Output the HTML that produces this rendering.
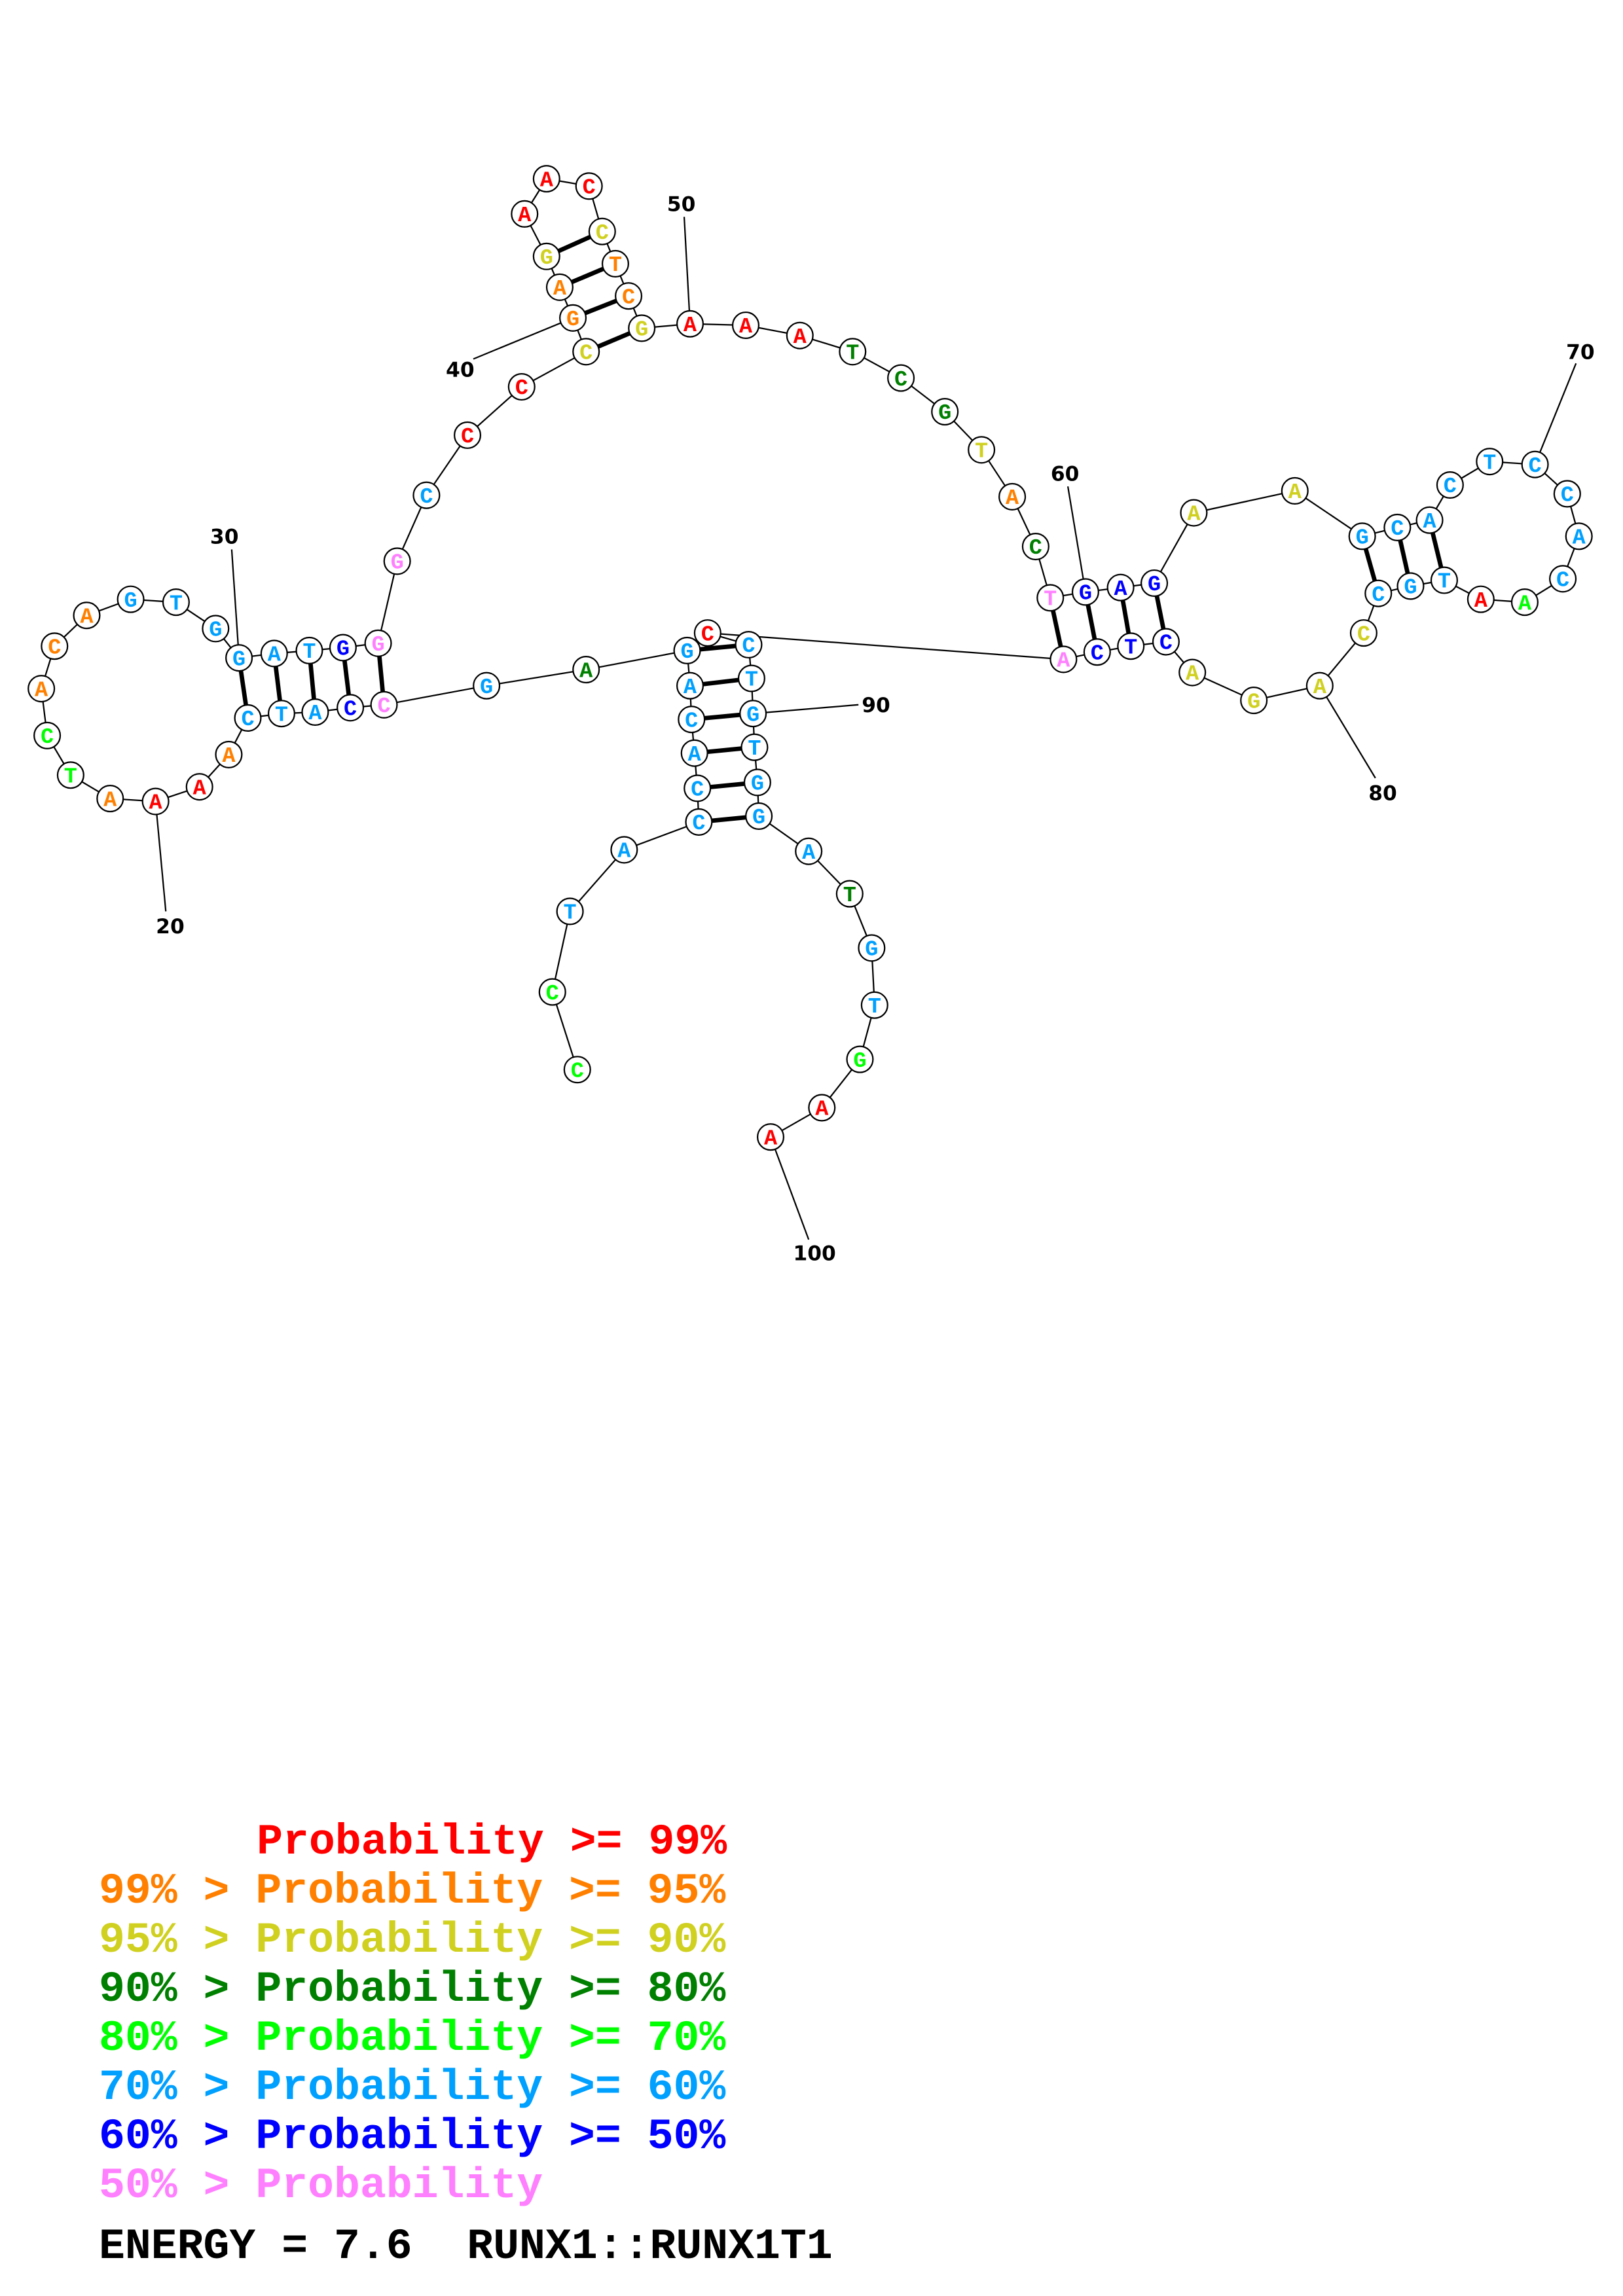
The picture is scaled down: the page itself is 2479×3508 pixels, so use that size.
<!DOCTYPE html>
<html><head><meta charset="utf-8"><style>html,body{margin:0;padding:0;background:#fff}svg{display:block}.leg text{white-space:pre}</style></head><body>
<svg xmlns="http://www.w3.org/2000/svg" width="2479" height="3508" viewBox="0 0 1100 1567" preserveAspectRatio="none">
<rect width="1100" height="1567" fill="#fff"/>
<g transform="translate(1.215,0) scale(0.9925,1)">
<g stroke="#000" stroke-width="1" fill="none">
<polyline points="393,730 376,677 388,622 425,580 476,561 475,538 473,514 471,491 470,468 468,444 399,457 331,468 261,481 238,483 214,486 191,487 168,490 155,515 135,537 105,547 74,545 47,529 31,502 27,470 36,441 58,420 88,409 119,411 146,429 162,449 186,446 210,444 233,442 257,439 270,383 290,338 318,297 355,264 399,240 390,217 381,196 372,175 357,146 372,122 401,127 410,158 419,180 428,202 437,224 470,221 508,222 545,229 581,240 614,258 644,281 669,307 690,339 706,373 716,408 740,404 764,401 787,398 814,350 883,335 929,366 953,360 975,355 989,331 1016,315 1047,317 1069,337 1077,366 1066,395 1040,411 1010,409 985,396 962,400 940,405 930,432 900,468 855,478 813,459 795,438 771,441 748,445 725,450 482,432 510,440 512,463 513,487 514,510 516,534 517,557 551,581 579,610 594,647 596,686 586,723 560,756 525,776"/>
<line x1="112" y1="622" x2="105" y2="547"/>
<line x1="157" y1="375" x2="162" y2="449"/>
<line x1="322" y1="245" x2="390" y2="217"/>
<line x1="466" y1="148" x2="470" y2="221"/>
<line x1="728" y1="332" x2="740" y2="404"/>
<line x1="1075" y1="248" x2="1047" y2="317"/>
<line x1="938" y1="531" x2="900" y2="468"/>
<line x1="585" y1="481" x2="513" y2="487"/>
<line x1="551" y1="846" x2="525" y2="776"/>
</g>
<g stroke="#000" stroke-width="3">
<line x1="261" y1="481" x2="257" y2="439"/><line x1="238" y1="483" x2="233" y2="442"/><line x1="214" y1="486" x2="210" y2="444"/><line x1="191" y1="487" x2="186" y2="446"/><line x1="168" y1="490" x2="162" y2="449"/>
<line x1="399" y1="240" x2="437" y2="224"/><line x1="390" y1="217" x2="428" y2="202"/><line x1="381" y1="196" x2="419" y2="180"/><line x1="372" y1="175" x2="410" y2="158"/>
<line x1="716" y1="408" x2="725" y2="450"/><line x1="740" y1="404" x2="748" y2="445"/><line x1="764" y1="401" x2="771" y2="441"/><line x1="787" y1="398" x2="795" y2="438"/>
<line x1="929" y1="366" x2="940" y2="405"/><line x1="953" y1="360" x2="962" y2="400"/><line x1="975" y1="355" x2="985" y2="396"/>
<line x1="476" y1="561" x2="517" y2="557"/><line x1="475" y1="538" x2="516" y2="534"/><line x1="473" y1="514" x2="514" y2="510"/><line x1="471" y1="491" x2="513" y2="487"/><line x1="470" y1="468" x2="512" y2="463"/><line x1="468" y1="444" x2="510" y2="440"/>
</g>
<g stroke="#000" stroke-width="1" fill="#fff">
<circle cx="393" cy="730" r="8.9"/><circle cx="376" cy="677" r="8.9"/><circle cx="388" cy="622" r="8.9"/><circle cx="425" cy="580" r="8.9"/><circle cx="476" cy="561" r="8.9"/><circle cx="475" cy="538" r="8.9"/><circle cx="473" cy="514" r="8.9"/><circle cx="471" cy="491" r="8.9"/><circle cx="470" cy="468" r="8.9"/><circle cx="468" cy="444" r="8.9"/>
<circle cx="399" cy="457" r="8.9"/><circle cx="331" cy="468" r="8.9"/><circle cx="261" cy="481" r="8.9"/><circle cx="238" cy="483" r="8.9"/><circle cx="214" cy="486" r="8.9"/><circle cx="191" cy="487" r="8.9"/><circle cx="168" cy="490" r="8.9"/><circle cx="155" cy="515" r="8.9"/><circle cx="135" cy="537" r="8.9"/><circle cx="105" cy="547" r="8.9"/>
<circle cx="74" cy="545" r="8.9"/><circle cx="47" cy="529" r="8.9"/><circle cx="31" cy="502" r="8.9"/><circle cx="27" cy="470" r="8.9"/><circle cx="36" cy="441" r="8.9"/><circle cx="58" cy="420" r="8.9"/><circle cx="88" cy="409" r="8.9"/><circle cx="119" cy="411" r="8.9"/><circle cx="146" cy="429" r="8.9"/><circle cx="162" cy="449" r="8.9"/>
<circle cx="186" cy="446" r="8.9"/><circle cx="210" cy="444" r="8.9"/><circle cx="233" cy="442" r="8.9"/><circle cx="257" cy="439" r="8.9"/><circle cx="270" cy="383" r="8.9"/><circle cx="290" cy="338" r="8.9"/><circle cx="318" cy="297" r="8.9"/><circle cx="355" cy="264" r="8.9"/><circle cx="399" cy="240" r="8.9"/><circle cx="390" cy="217" r="8.9"/>
<circle cx="381" cy="196" r="8.9"/><circle cx="372" cy="175" r="8.9"/><circle cx="357" cy="146" r="8.9"/><circle cx="372" cy="122" r="8.9"/><circle cx="401" cy="127" r="8.9"/><circle cx="410" cy="158" r="8.9"/><circle cx="419" cy="180" r="8.9"/><circle cx="428" cy="202" r="8.9"/><circle cx="437" cy="224" r="8.9"/><circle cx="470" cy="221" r="8.9"/>
<circle cx="508" cy="222" r="8.9"/><circle cx="545" cy="229" r="8.9"/><circle cx="581" cy="240" r="8.9"/><circle cx="614" cy="258" r="8.9"/><circle cx="644" cy="281" r="8.9"/><circle cx="669" cy="307" r="8.9"/><circle cx="690" cy="339" r="8.9"/><circle cx="706" cy="373" r="8.9"/><circle cx="716" cy="408" r="8.9"/><circle cx="740" cy="404" r="8.9"/>
<circle cx="764" cy="401" r="8.9"/><circle cx="787" cy="398" r="8.9"/><circle cx="814" cy="350" r="8.9"/><circle cx="883" cy="335" r="8.9"/><circle cx="929" cy="366" r="8.9"/><circle cx="953" cy="360" r="8.9"/><circle cx="975" cy="355" r="8.9"/><circle cx="989" cy="331" r="8.9"/><circle cx="1016" cy="315" r="8.9"/><circle cx="1047" cy="317" r="8.9"/>
<circle cx="1069" cy="337" r="8.9"/><circle cx="1077" cy="366" r="8.9"/><circle cx="1066" cy="395" r="8.9"/><circle cx="1040" cy="411" r="8.9"/><circle cx="1010" cy="409" r="8.9"/><circle cx="985" cy="396" r="8.9"/><circle cx="962" cy="400" r="8.9"/><circle cx="940" cy="405" r="8.9"/><circle cx="930" cy="432" r="8.9"/><circle cx="900" cy="468" r="8.9"/>
<circle cx="855" cy="478" r="8.9"/><circle cx="813" cy="459" r="8.9"/><circle cx="795" cy="438" r="8.9"/><circle cx="771" cy="441" r="8.9"/><circle cx="748" cy="445" r="8.9"/><circle cx="725" cy="450" r="8.9"/><circle cx="482" cy="432" r="8.9"/><circle cx="510" cy="440" r="8.9"/><circle cx="512" cy="463" r="8.9"/><circle cx="513" cy="487" r="8.9"/>
<circle cx="514" cy="510" r="8.9"/><circle cx="516" cy="534" r="8.9"/><circle cx="517" cy="557" r="8.9"/><circle cx="551" cy="581" r="8.9"/><circle cx="579" cy="610" r="8.9"/><circle cx="594" cy="647" r="8.9"/><circle cx="596" cy="686" r="8.9"/><circle cx="586" cy="723" r="8.9"/><circle cx="560" cy="756" r="8.9"/><circle cx="525" cy="776" r="8.9"/>
</g>
<g font-family="Liberation Mono, monospace" font-weight="bold" font-size="15" text-anchor="middle">
<g fill="#00ff00"><text x="393" y="735">C</text><text x="376" y="682">C</text><text x="47" y="534">T</text><text x="31" y="507">C</text><text x="1040" y="416">A</text><text x="586" y="728">G</text></g>
<g fill="#00a0ff"><text x="388" y="627">T</text><text x="425" y="585">A</text><text x="476" y="566">C</text><text x="475" y="543">C</text><text x="473" y="519">A</text><text x="471" y="496">C</text><text x="470" y="473">A</text><text x="468" y="449">G</text><text x="331" y="473">G</text><text x="214" y="491">A</text><text x="191" y="492">T</text><text x="168" y="495">C</text><text x="88" y="414">G</text><text x="119" y="416">T</text><text x="146" y="434">G</text><text x="162" y="454">G</text><text x="186" y="451">A</text><text x="210" y="449">T</text><text x="290" y="343">C</text><text x="929" y="371">G</text><text x="953" y="365">C</text><text x="975" y="360">A</text><text x="989" y="336">C</text><text x="1016" y="320">T</text><text x="1047" y="322">C</text><text x="1069" y="342">C</text><text x="1077" y="371">A</text><text x="1066" y="400">C</text><text x="985" y="401">T</text><text x="962" y="405">G</text><text x="940" y="410">C</text><text x="510" y="445">C</text><text x="512" y="468">T</text><text x="513" y="492">G</text><text x="514" y="515">T</text><text x="516" y="539">G</text><text x="517" y="562">G</text><text x="551" y="586">A</text><text x="594" y="652">G</text><text x="596" y="691">T</text></g>
<g fill="#008000"><text x="399" y="462">A</text><text x="581" y="245">T</text><text x="614" y="263">C</text><text x="644" y="286">G</text><text x="706" y="378">C</text><text x="579" y="615">T</text></g>
<g fill="#ff80ff"><text x="261" y="486">C</text><text x="257" y="444">G</text><text x="270" y="388">G</text><text x="716" y="413">T</text><text x="725" y="455">A</text></g>
<g fill="#0000ff"><text x="238" y="488">C</text><text x="233" y="447">G</text><text x="740" y="409">G</text><text x="764" y="406">A</text><text x="787" y="403">G</text><text x="795" y="443">C</text><text x="771" y="446">T</text><text x="748" y="450">C</text></g>
<g fill="#ff8000"><text x="155" y="520">A</text><text x="74" y="550">A</text><text x="27" y="475">A</text><text x="36" y="446">C</text><text x="58" y="425">A</text><text x="390" y="222">G</text><text x="381" y="201">A</text><text x="419" y="185">T</text><text x="428" y="207">C</text><text x="690" y="344">A</text></g>
<g fill="#ff0000"><text x="135" y="542">A</text><text x="105" y="552">A</text><text x="318" y="302">C</text><text x="355" y="269">C</text><text x="357" y="151">A</text><text x="372" y="127">A</text><text x="401" y="132">C</text><text x="470" y="226">A</text><text x="508" y="227">A</text><text x="545" y="234">A</text><text x="1010" y="414">A</text><text x="482" y="437">C</text><text x="560" y="761">A</text><text x="525" y="781">A</text></g>
<g fill="#d0d020"><text x="399" y="245">C</text><text x="372" y="180">G</text><text x="410" y="163">C</text><text x="437" y="229">G</text><text x="669" y="312">T</text><text x="814" y="355">A</text><text x="883" y="340">A</text><text x="930" y="437">C</text><text x="900" y="473">A</text><text x="855" y="483">G</text><text x="813" y="464">A</text></g>
</g>
<g font-family="DejaVu Sans, Liberation Sans, sans-serif" font-weight="bold" font-size="14" text-anchor="middle" fill="#000">
<text x="115" y="637">20</text><text x="152" y="371">30</text><text x="313" y="257">40</text><text x="464" y="144">50</text><text x="726" y="328">60</text><text x="1078" y="245">70</text><text x="943" y="546">80</text><text x="597" y="486">90</text><text x="555" y="860">100</text>
</g>
</g>
<g class="leg" font-family="Liberation Mono, monospace" font-weight="bold" font-size="29.5">
<text x="174" y="1265" fill="#ff0000">Probability &gt;= 99%</text>
<text x="67" y="1298.5" fill="#ff8000">99% &gt; Probability &gt;= 95%</text>
<text x="67" y="1332" fill="#d0d020">95% &gt; Probability &gt;= 90%</text>
<text x="67" y="1365.5" fill="#008000">90% &gt; Probability &gt;= 80%</text>
<text x="67" y="1399" fill="#00ff00">80% &gt; Probability &gt;= 70%</text>
<text x="67" y="1432.5" fill="#00a0ff">70% &gt; Probability &gt;= 60%</text>
<text x="67" y="1466" fill="#0000ff">60% &gt; Probability &gt;= 50%</text>
<text x="67" y="1499.5" fill="#ff80ff">50% &gt; Probability</text>
<text x="67" y="1541" fill="#000">ENERGY = 7.6<tspan x="316.5">RUNX1::RUNX1T1</tspan></text>
</g>
</svg>
</body></html>
